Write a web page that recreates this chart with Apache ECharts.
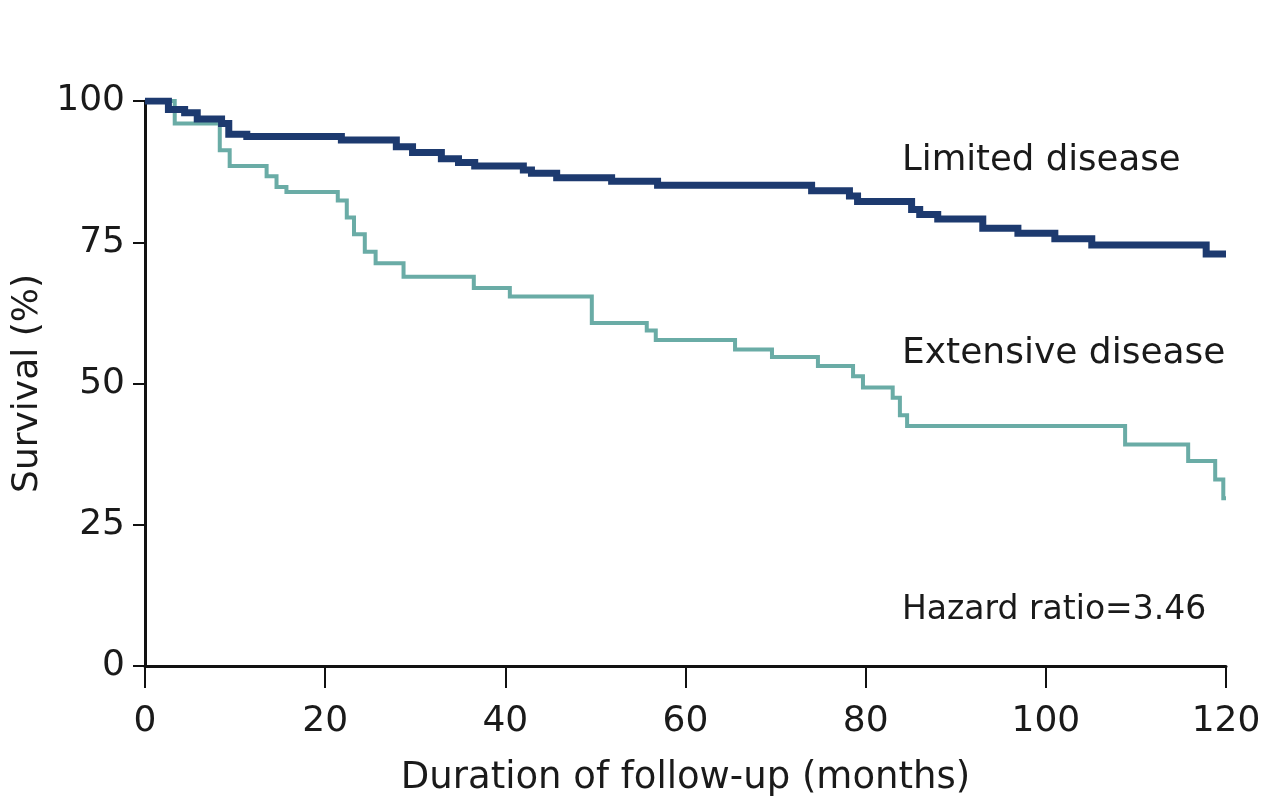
<!DOCTYPE html>
<html>
<head>
<meta charset="utf-8">
<script src="https://cdn.jsdelivr.net/npm/echarts@6/dist/echarts.min.js"></script>
<style>
  html, body, #main { margin: 0; padding: 0; width: 100%; height: 100%; overflow: hidden; background: #fff; }
</style>
</head>
<body>
<div id="main"></div>
<script>
// Kaplan-Meier curves (months, survival %)
const limitedTimes = [0, 2.6, 4.4, 5.8, 8.5, 9.3, 11.3, 21.8, 27.9, 29.7, 32.9, 34.8, 36.6, 42.0, 42.9, 45.7, 51.8, 56.9, 74.0, 78.2, 79.1, 85.1, 86.0, 88.0, 93.0, 96.9, 101.0, 105.1, 117.8, 120];
const limitedSurv = [100, 98.5, 97.9, 96.8, 96.0, 94.1, 93.7, 93.1, 91.9, 90.9, 89.8, 89.1, 88.5, 87.8, 87.2, 86.4, 85.8, 85.1, 84.1, 83.2, 82.2, 80.8, 79.9, 79.1, 77.5, 76.6, 75.6, 74.5, 72.9, 72.9];

const extensiveTimes = [0, 3.3, 8.3, 9.4, 13.5, 14.6, 15.7, 21.4, 22.4, 23.2, 24.4, 25.6, 28.7, 36.5, 40.5, 49.6, 55.7, 56.7, 65.5, 69.6, 74.7, 78.6, 79.7, 83.0, 83.8, 84.6, 108.8, 115.8, 118.8, 119.7, 120];
const extensiveSurv = [100, 96.0, 91.3, 88.5, 86.7, 84.8, 83.9, 82.4, 79.4, 76.4, 73.3, 71.3, 68.9, 66.9, 65.4, 60.7, 59.4, 57.7, 56.0, 54.7, 53.1, 51.3, 49.3, 47.5, 44.4, 42.5, 39.2, 36.3, 33.0, 29.7, 29.7];

const xTicks = [0, 20, 40, 60, 80, 100, 120];
const yTicks = [0, 25, 50, 75, 100];

const FONT = "DejaVu Sans";

function pairs(ts, vs) {
  return ts.map((t, i) => [t, vs[i]]);
}

let myChart = echarts.init(document.getElementById("main"));
myChart.setOption({
  animation: false,
  textStyle: { fontFamily: FONT },
  grid: { left: 145, right: 42, top: 101, bottom: 138 },
  xAxis: {
    type: "value",
    min: xTicks[0],
    max: xTicks[xTicks.length - 1],
    interval: 20,
    name: "Duration of follow-up (months)",
    nameLocation: "middle",
    nameGap: 94,
    nameTextStyle: { fontSize: 37, color: "#1a1a1a", fontFamily: FONT },
    axisLine: { lineStyle: { color: "#111", width: 3 } },
    axisTick: { show: true, length: 22, lineStyle: { color: "#111", width: 2 } },
    axisLabel: { margin: 38, fontSize: 36, color: "#1a1a1a", fontFamily: FONT },
    splitLine: { show: false },
  },
  yAxis: {
    type: "value",
    min: yTicks[0],
    max: yTicks[yTicks.length - 1],
    interval: 25,
    name: "Survival (%)",
    nameLocation: "middle",
    nameGap: 96,
    nameRotate: 90,
    nameTextStyle: { fontSize: 36, color: "#1a1a1a", fontFamily: FONT },
    axisLine: { show: true, lineStyle: { color: "#111", width: 3 } },
    axisTick: { show: true, length: 12, lineStyle: { color: "#111", width: 2 } },
    axisLabel: { margin: 20, fontSize: 36, color: "#1a1a1a", fontFamily: FONT },
    splitLine: { show: false },
  },
  graphic: [
    { type: "text", left: 902, top: 143, style: { text: "Limited disease", fontSize: 35.5, fill: "#1a1a1a", fontFamily: FONT } },
    { type: "text", left: 902, top: 336, style: { text: "Extensive disease", fontSize: 36, fill: "#1a1a1a", fontFamily: FONT } },
    { type: "text", left: 902, top: 594, style: { text: "Hazard ratio=3.46", fontSize: 33, fill: "#1a1a1a", fontFamily: FONT } },
  ],
  series: [
    {
      name: "Extensive disease",
      type: "line",
      step: "end",
      symbol: "none",
      data: pairs(extensiveTimes, extensiveSurv),
      lineStyle: { color: "#6aaca6", width: 4, join: "miter", cap: "butt" },
    },
    {
      name: "Limited disease",
      type: "line",
      step: "end",
      symbol: "none",
      data: pairs(limitedTimes, limitedSurv),
      lineStyle: { color: "#1d3a6f", width: 7, join: "miter", cap: "butt" },
    },
  ],
});

window.onresize = myChart.resize;
</script>
</body>
</html>
